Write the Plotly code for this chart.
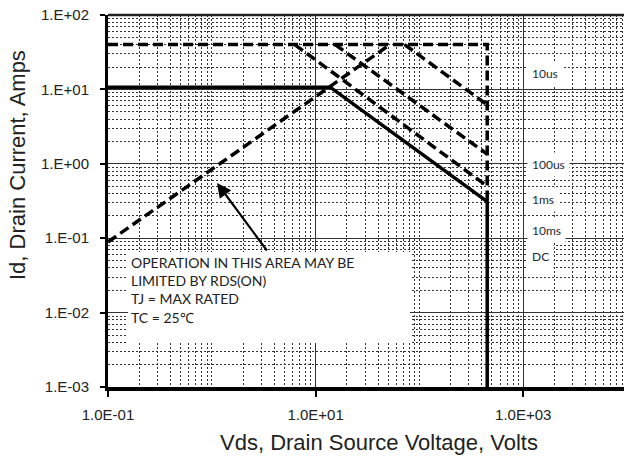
import plotly.graph_objects as go

# ---- data (Vds in volts, Id in amps) ----
rds_v = [0.1, 52]
rds_i = [0.089, 40]

limit_v = [0.1, 450, 450]
limit_i = [40, 40, 0.31]

us10_v = [72, 450]
us10_i = [40, 6.2]

us100_v = [15.4, 450]
us100_i = [40, 1.35]

ms1_v = [6.3, 450]
ms1_i = [40, 0.5]

dc_v = [0.1, 13.8, 450, 450]
dc_i = [10.7, 10.7, 0.31, 0.001]

x_tickvals = [0.1, 10, 1000]
x_ticktext = ["1.0E-01", "1.0E+01", "1.0E+03"]
y_tickvals = [1e-3, 1e-2, 1e-1, 1, 10, 100]
y_ticktext = ["1.E-03", "1.E-02", "1.E-01", "1.E+00", "1.E+01", "1.E+02"]

curve_labels = ["10us", "100us", "1ms", "10ms", "DC"]
curve_label_y = [0.844, 0.599, 0.505, 0.422, 0.352]

note_lines = ["OPERATION IN THIS AREA MAY BE", "LIMITED BY RDS(ON)", "TJ = MAX RATED", "TC = 25\u2103"]

# minor grid positions (k * 10^n)
x_minor = [k * 10.0 ** n for n in range(-1, 4) for k in range(1, 10)
           if not any(abs(k * 10.0 ** n - t) < 1e-9 for t in x_tickvals)]
y_minor = [k * 10.0 ** n for n in range(-3, 2) for k in range(2, 10)]

DASH = "10px,5px"
fig = go.Figure()
fig.add_trace(go.Scatter(x=rds_v, y=rds_i, mode="lines", line=dict(color="black", width=3.5, dash=DASH)))
fig.add_trace(go.Scatter(x=limit_v, y=limit_i, mode="lines", line=dict(color="black", width=3.5, dash=DASH)))
fig.add_trace(go.Scatter(x=us10_v, y=us10_i, mode="lines", line=dict(color="black", width=3.5, dash=DASH)))
fig.add_trace(go.Scatter(x=us100_v, y=us100_i, mode="lines", line=dict(color="black", width=3.5, dash=DASH)))
fig.add_trace(go.Scatter(x=ms1_v, y=ms1_i, mode="lines", line=dict(color="black", width=3.5, dash=DASH)))
fig.add_trace(go.Scatter(x=dc_v, y=dc_i, mode="lines", line=dict(color="black", width=3.5)))

axis_font = dict(family="Liberation Sans, Arial, sans-serif", size=15, color="#222")

fig.update_xaxes(
    type="log", range=[-1, 3.971],
    tickmode="array", tickvals=x_tickvals, ticktext=x_ticktext,
    tickfont=axis_font, ticks="outside", ticklen=6, tickwidth=1.5, tickcolor="black",
    showgrid=True, gridcolor="#333", gridwidth=1,
    showline=True, linecolor="black", linewidth=4,
    zeroline=False, ticklabelstandoff=5,
    minor=dict(tickmode="array", tickvals=x_minor, showgrid=True,
               gridcolor="#333", griddash="2px,2px", gridwidth=1, ticks=""),
)
fig.update_yaxes(
    type="log", range=[-3, 2],
    tickmode="array", tickvals=y_tickvals, ticktext=y_ticktext,
    tickfont=axis_font, ticks="outside", ticklen=5, tickwidth=2, tickcolor="black",
    showgrid=True, gridcolor="#333", gridwidth=1,
    showline=True, linecolor="black", linewidth=3,
    zeroline=False, ticklabelstandoff=8,
    minor=dict(tickmode="array", tickvals=y_minor, showgrid=True,
               gridcolor="#333", griddash="2px,2px", gridwidth=1, ticks=""),
)

W, H = 624, 461
L, R, T, B = 108, 0, 15, 74
pw, ph = W - L - R, H - T - B

def px_x(p):
    return (p - L) / pw

def px_y(p):
    return (H - B - p) / ph

shapes = [
    # top border
    dict(type="line", xref="paper", yref="paper", x0=0, x1=1, y0=1, y1=1,
         line=dict(color="#222", width=2.5), layer="above"),
    # white note box
    dict(type="rect", xref="paper", yref="paper",
         x0=px_x(128), x1=px_x(410), y0=px_y(343), y1=px_y(252),
         fillcolor="white", line=dict(width=0), layer="above"),
]

annotations = [
    dict(text="Vds, Drain Source Voltage, Volts", xref="paper", yref="paper",
         x=px_x(379), y=px_y(442), xanchor="center", yanchor="middle", showarrow=False,
         font=dict(family="Liberation Sans, Arial, sans-serif", size=22, color="#222")),
    dict(text="Id, Drain Current, Amps", xref="paper", yref="paper",
         x=px_x(17), y=px_y(165), xanchor="center", yanchor="middle", showarrow=False,
         textangle=-90,
         font=dict(family="Liberation Sans, Arial, sans-serif", size=22, color="#222")),
    dict(text="<br>".join(note_lines), xref="paper", yref="paper",
         x=px_x(130), y=px_y(253), xanchor="left", yanchor="top", align="left",
         showarrow=False, borderpad=0,
         font=dict(family="Lato, sans-serif", size=14, color="#222")),
    dict(text="", xref="paper", yref="paper", x=px_x(217), y=px_y(183),
         ax=51, ay=69, showarrow=True, arrowhead=2, arrowsize=1.3, arrowwidth=2.2,
         arrowcolor="black"),
]
for lab, yy in zip(curve_labels, curve_label_y):
    annotations.append(dict(text=lab, xref="paper", yref="paper", x=px_x(527), y=yy,
                            xanchor="left", yanchor="middle", showarrow=False,
                            bgcolor="white", borderpad=4,
                            font=dict(family="Lato, sans-serif", size=12, color="#1e2a3a")))

fig.update_layout(
    width=W, height=H, margin=dict(l=L, r=R, t=T, b=B, pad=0),
    plot_bgcolor="white", paper_bgcolor="white", showlegend=False,
    shapes=shapes, annotations=annotations,
)

fig.write_html("out.html", config={"displayModeBar": False},
               post_script="document.body.style.margin='0px';")
